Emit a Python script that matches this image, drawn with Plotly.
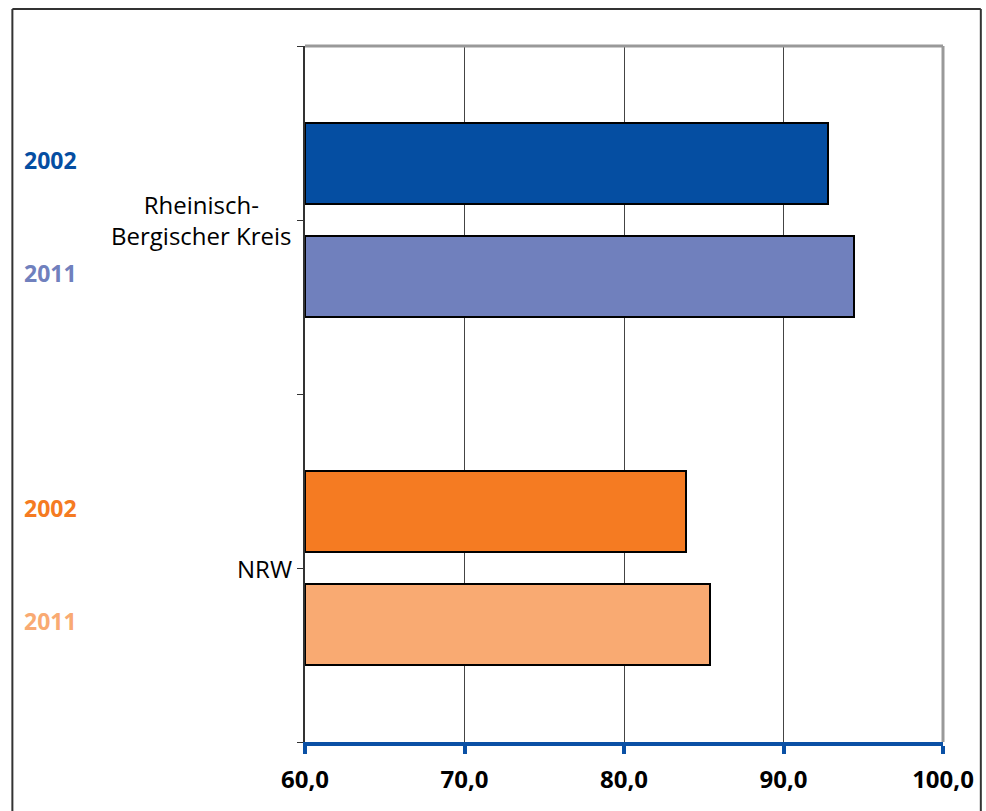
import plotly.graph_objects as go

regions = ["Rheinisch-<br>Bergischer Kreis", "NRW"]
years = ["2002", "2011"]
values_rbk = [92.8, 94.4]
values_nrw = [83.9, 85.4]
colors_rbk = ["#054ea2", "#7080bd"]
colors_nrw = ["#f57b22", "#f9aa72"]
x_ticks = [60, 70, 80, 90, 100]

# category centers 0.5, 1.5 ; bars offset inside each category
offsets = [-0.163, 0.163]
bar_w = 0.232

fig = go.Figure()
for ci, (vals, cols) in enumerate([(values_rbk, colors_rbk), (values_nrw, colors_nrw)]):
    for yi in range(2):
        ypos = ci + 0.5 + offsets[yi]
        fig.add_trace(go.Bar(
            x=[vals[yi] - 60], base=60, y=[ypos], orientation="h", width=bar_w,
            marker=dict(color=cols[yi], line=dict(color="black", width=2)),
            showlegend=False, hoverinfo="x",
        ))
        fig.add_annotation(
            x=-0.443, xref="paper", y=ypos - 0.01, yref="y", xanchor="left", yanchor="middle",
            text="<b>%s</b>" % years[yi], showarrow=False,
            font=dict(family="Open Sans", size=23, color=cols[yi]),
        )

for ci, name in enumerate(regions):
    fig.add_annotation(
        x=-0.018, xref="paper", y=ci + 0.5, yref="y", xanchor="right", yanchor="middle",
        text=name, showarrow=False, align="center",
        font=dict(family="Open Sans", size=24, color="black"),
    )

# plot frame top/right (gray)
fig.add_shape(type="line", xref="paper", yref="paper", x0=0, x1=1, y0=1, y1=1,
              line=dict(color="#999999", width=3))
fig.add_shape(type="line", xref="paper", yref="paper", x0=1, x1=1, y0=0, y1=1,
              line=dict(color="#999999", width=3))
# outer border
L = (11 - 305) / 641
R = (984 - 305) / 641
T = 1 + (46 - 9) / 696
B = -0.2
for x0, y0, x1, y1 in [(L, B, L, T), (L, T, R, T), (R, T, R, B)]:
    fig.add_shape(type="line", xref="paper", yref="paper", x0=x0, y0=y0, x1=x1, y1=y1,
                  line=dict(color="#333333", width=2))

fig.update_layout(
    width=986, height=811,
    margin=dict(l=305, r=40, t=46, b=69),
    paper_bgcolor="white", plot_bgcolor="white",
    separators=",.",
    bargap=0,
    xaxis=dict(
        range=[60, 100], tickvals=x_ticks, tickformat=".1f",
        showgrid=True, gridcolor="#444444", gridwidth=1,
        showline=True, linecolor="#0a50a5", linewidth=4,
        ticks="outside", ticklen=8, tickwidth=4, tickcolor="#0a50a5",
        tickfont=dict(family="Open Sans", size=24, color="black", weight="bold"),
        ticklabelstandoff=5,
        zeroline=False, fixedrange=True,
    ),
    yaxis=dict(
        range=[2, 0], tickvals=[0, 0.5, 1, 1.5, 2], ticktext=["", "", "", "", ""],
        showgrid=False, zeroline=False,
        showline=True, linecolor="#333333", linewidth=2,
        ticks="outside", ticklen=6, tickwidth=1, tickcolor="#333333",
        fixedrange=True,
    ),
)

fig.write_html(
    "out.html",
    config={"displayModeBar": False},
    post_script="document.body.style.margin='0';document.body.style.overflow='hidden';",
)
